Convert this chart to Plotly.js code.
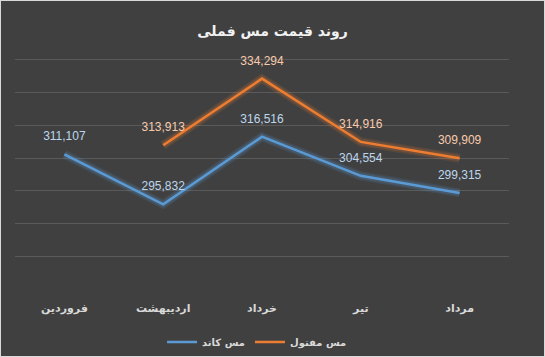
<!DOCTYPE html>
<html>
<head>
<meta charset="utf-8">
<script src="https://cdn.plot.ly/plotly-3.0.1.min.js"></script>
<style>
html,body{margin:0;padding:0;background:#404040;}
#wrap{width:543px;height:355px;border:1px solid #d9d9d9;}
</style>
</head>
<body>
<div id="wrap"><div id="chart"></div></div>
<script>
var months = ["فروردین", "اردیبهشت", "خرداد", "تیر", "مرداد"];
var cathodeName = "مس کاتد";
var cathode = [311107, 295832, 316516, 304554, 299315];
var wireName = "مس مفتول";
var wire = [null, 313913, 334294, 314916, 309909];
var titleText = "روند قیمت مس فملی";

function fmt(v){ return v === null ? "" : v.toLocaleString("en-US"); }

var blue = "#5b9bd5", orange = "#ed7d31";
function glow(y, c){
  return [
    {x: months, y: y, type: "scatter", mode: "lines", line: {color: c, width: 9}, opacity: 0.12, showlegend: false, hoverinfo: "skip"},
    {x: months, y: y, type: "scatter", mode: "lines", line: {color: c, width: 6}, opacity: 0.18, showlegend: false, hoverinfo: "skip"}
  ];
}
var traces = [].concat(glow(cathode, blue), glow(wire, orange), [
  {x: months, y: cathode, name: cathodeName, type: "scatter", mode: "lines+markers+text",
   line: {color: blue, width: 2.5}, marker: {size: 16, color: "rgba(0,0,0,0)"},
   text: cathode.map(fmt), textposition: "top center", cliponaxis: false,
   textfont: {color: "#bdd7ee", size: 12, family: "Liberation Sans, Arial"}},
  {x: months, y: wire, name: wireName, type: "scatter", mode: "lines+markers+text",
   line: {color: orange, width: 2.5}, marker: {size: 16, color: "rgba(0,0,0,0)"},
   text: wire.map(fmt), textposition: "top center", cliponaxis: false,
   textfont: {color: "#f8cbad", size: 12, family: "Liberation Sans, Arial"}}
]);

var layout = {
  width: 543, height: 355,
  paper_bgcolor: "#404040", plot_bgcolor: "#404040",
  margin: {l: 14, r: 35, t: 57, b: 98, autoexpand: false},
  title: {text: "<b>" + titleText + "</b>", x: 0.5, xanchor: "center", y: 0.915, yanchor: "middle",
          font: {family: "DejaVu Sans", size: 14, color: "#f2f2f2"}},
  xaxis: {showgrid: false, zeroline: false, showline: false, ticks: "", automargin: false,
          ticklabelstandoff: 42,
          tickfont: {family: "DejaVu Sans", size: 11, color: "#d9d9d9", weight: "bold"},
          range: [-0.5, 4.5]},
  yaxis: {range: [279400, 340600], dtick: 10000, tick0: 0, showticklabels: false, automargin: false,
          showgrid: true, gridcolor: "#5a5a5a", gridwidth: 1, zeroline: false, showline: false},
  showlegend: true,
  legend: {orientation: "h", x: 0.49, xanchor: "center", y: -0.42, yanchor: "middle",
           font: {family: "DejaVu Sans", size: 10, color: "#d9d9d9", weight: "bold"},
           traceorder: "normal", itemwidth: 30},
  hovermode: false
};
Plotly.newPlot("chart", traces, layout, {displayModeBar: false, staticPlot: true});
</script>
</body>
</html>
